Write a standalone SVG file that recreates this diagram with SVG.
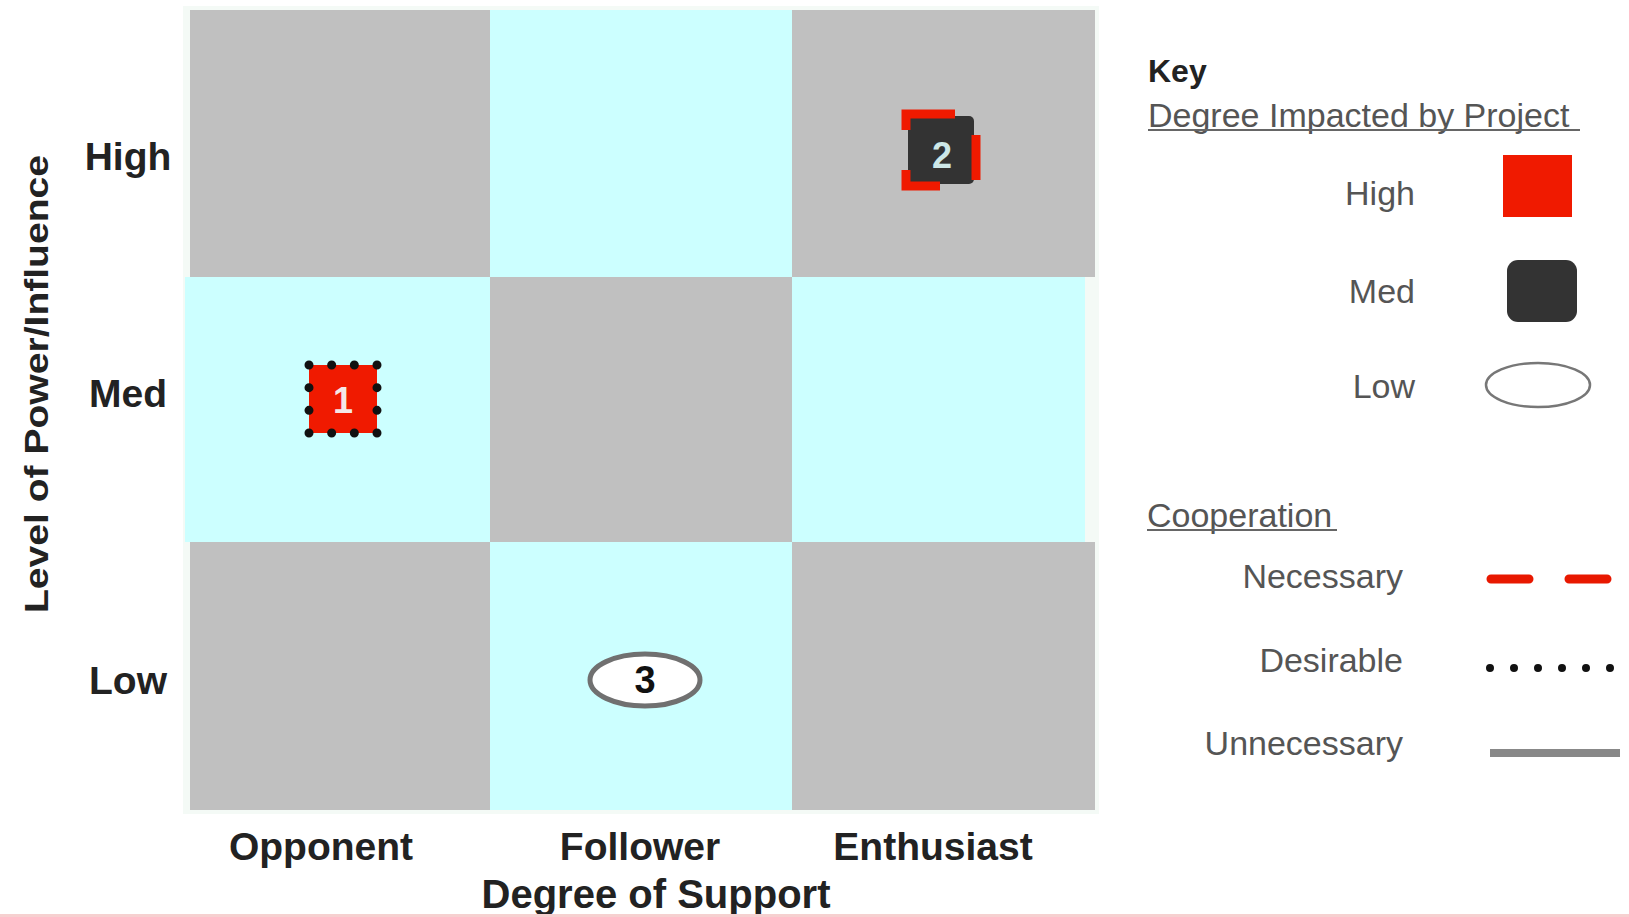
<svg xmlns="http://www.w3.org/2000/svg" width="1629" height="917" viewBox="0 0 1629 917">
<style>
.g{fill:#c0c0c0}
.c{fill:#ccffff}
.ax{font-family:"Liberation Sans",Arial,sans-serif;font-weight:bold;fill:#222;font-size:39px}
.lg{font-family:"Liberation Sans",Arial,sans-serif;fill:#555;font-size:34px}
.num{font-family:"Liberation Sans",Arial,sans-serif;font-weight:bold;font-size:36px;text-anchor:middle}
</style>
<rect width="1629" height="917" fill="#ffffff"/>
<g id="grid">
<rect x="183" y="6" width="916" height="808" fill="#f4faf6"/>
<rect class="g" x="190" y="10" width="300" height="267"/>
<rect class="c" x="490" y="10" width="302" height="267"/>
<rect class="g" x="792" y="10" width="303" height="267"/>
<rect class="c" x="185" y="277" width="305" height="265"/>
<rect class="g" x="490" y="277" width="302" height="265"/>
<rect class="c" x="792" y="277" width="293" height="265"/>
<rect class="g" x="190" y="542" width="300" height="268"/>
<rect class="c" x="490" y="542" width="302" height="268"/>
<rect class="g" x="792" y="542" width="303" height="268"/>
</g>
<g id="axis-labels">
<text class="ax" x="128" y="170" text-anchor="middle">High</text>
<text class="ax" x="128" y="407" text-anchor="middle">Med</text>
<text class="ax" x="128" y="694" text-anchor="middle">Low</text>
<text class="ax" x="321" y="860" text-anchor="middle">Opponent</text>
<text class="ax" x="640" y="860" text-anchor="middle">Follower</text>
<text class="ax" x="933" y="860" text-anchor="middle">Enthusiast</text>
<text class="ax" x="656" y="908" text-anchor="middle" style="font-size:40px">Degree of Support</text>
<text class="ax" transform="translate(48,384) rotate(-90)" text-anchor="middle" style="font-size:34px" textLength="458" lengthAdjust="spacingAndGlyphs">Level of Power/Influence</text>
</g>
<g id="node-1">
<rect x="309" y="365" width="68" height="68" fill="#f01a00" stroke="#111" stroke-width="9" stroke-linecap="round" stroke-dasharray="0 22.667"/>
<text class="num" x="343" y="413" fill="#f4e8e8">1</text>
</g>
<g id="node-2">
<rect x="908" y="116" width="66" height="68" rx="5" fill="#333333"/>
<path d="M906,130 V114 H976 V186 H906 Z" fill="none" stroke="#f01a00" stroke-width="9" stroke-dasharray="65 42 45 42 50 40"/>
<text class="num" x="942" y="168" fill="#cde8e8">2</text>
</g>
<g id="node-3">
<ellipse cx="645" cy="680" rx="55" ry="26" fill="#ffffff" stroke="#707070" stroke-width="5"/>
<text class="num" x="645" y="693" fill="#111" style="font-size:38px">3</text>
</g>
<g id="legend">
<text class="lg" x="1148" y="82" style="font-weight:bold;fill:#222;font-size:32px">Key</text>
<text class="lg" x="1148" y="127">Degree Impacted by Project</text>
<line x1="1148" y1="130" x2="1580" y2="130" stroke="#666" stroke-width="2"/>
<text class="lg" x="1415" y="205" text-anchor="end">High</text>
<rect x="1503" y="155" width="69" height="62" fill="#f01a00"/>
<text class="lg" x="1415" y="303" text-anchor="end">Med</text>
<rect x="1507" y="260" width="70" height="62" rx="11" fill="#333333"/>
<text class="lg" x="1415" y="398" text-anchor="end">Low</text>
<ellipse cx="1538" cy="385" rx="52" ry="22" fill="#ffffff" stroke="#777" stroke-width="2.5"/>
<text class="lg" x="1147" y="527">Cooperation</text>
<line x1="1147" y1="530" x2="1337" y2="530" stroke="#666" stroke-width="2"/>
<text class="lg" x="1403" y="588" text-anchor="end">Necessary</text>
<line x1="1491" y1="579" x2="1609" y2="579" stroke="#e81800" stroke-width="9" stroke-linecap="round" stroke-dasharray="38 40"/>
<text class="lg" x="1403" y="672" text-anchor="end">Desirable</text>
<line x1="1490" y1="668" x2="1612" y2="668" stroke="#111" stroke-width="8" stroke-linecap="round" stroke-dasharray="0 24"/>
<text class="lg" x="1403" y="755" text-anchor="end">Unnecessary</text>
<line x1="1490" y1="753" x2="1620" y2="753" stroke="#888" stroke-width="8"/>
</g>
<rect x="0" y="914" width="1629" height="3" fill="#f6d0d0"/>
</svg>
